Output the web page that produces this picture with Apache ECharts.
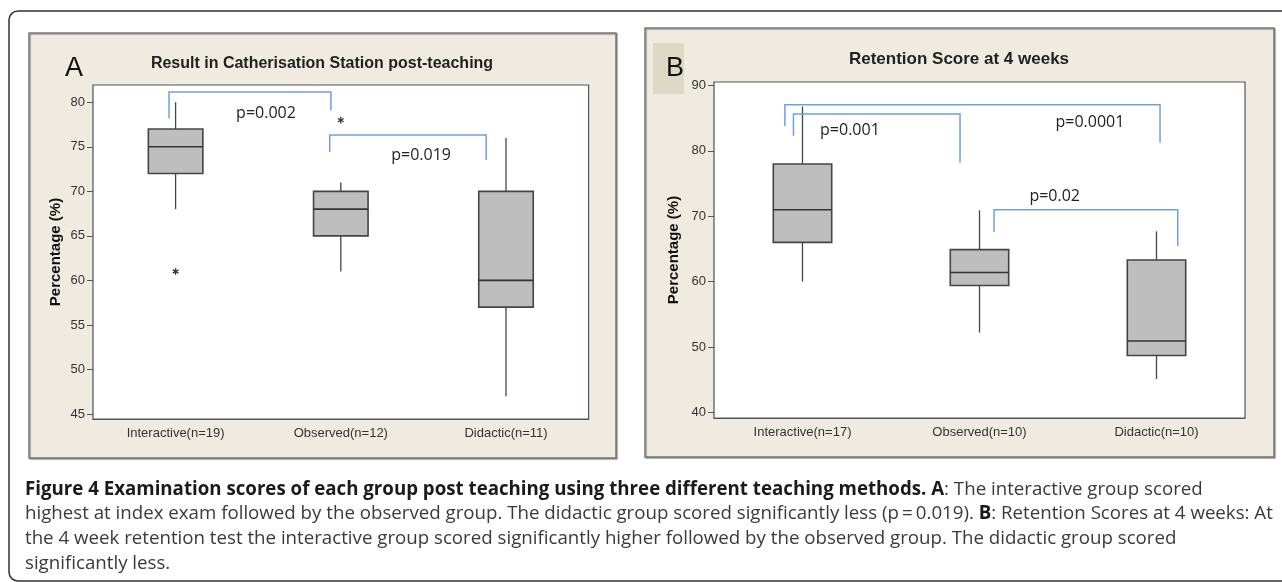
<!DOCTYPE html>
<html><head><meta charset="utf-8">
<script src="https://cdn.jsdelivr.net/npm/echarts@6/dist/echarts.min.js"></script>
<style>html,body{margin:0;padding:0;background:#fff;}#c{width:1282px;height:582px;}</style>
</head><body><div id="c"></div>
<script>
// ---------- DATA ----------
const categoriesA = ['Interactive(n=19)', 'Observed(n=12)', 'Didactic(n=11)'];
const categoriesB = ['Interactive(n=17)', 'Observed(n=10)', 'Didactic(n=10)'];
// [low whisker, Q1, median, Q3, high whisker]
const boxA = [[68, 72, 75, 77, 80], [61, 65, 68, 70, 71], [47, 57, 60, 70, 76]];
const boxB = [[60, 66, 71, 78, 86.8], [52.2, 59.4, 61.4, 64.9, 70.9], [45.1, 48.7, 50.9, 63.3, 67.7]];
// outliers [category index, value]
const outliersA = [[0, 61], [1, 78]];
const outliersB = [];
const ticksA = [45, 50, 55, 60, 65, 70, 75, 80];
const ticksB = [40, 50, 60, 70, 80, 90];
// significance brackets: [from category, to category, top value, left end value, right end value]
const bracketsA = [[0, 1, 81.16, 78.2, 79.1], [1, 2, 76.33, 74.42, 73.52]];
const bracketsB = [[0, 2, 87.06, 83.8, 81.24], [0, 1, 85.64, 82.3, 78.2], [1, 2, 70.98, 67.6, 65.4]];
// p-value labels: [category position, value]
const pPosA = [[0.547, 78.8], [1.486, 74.08]];
const pTextA = ['p=0.002', 'p=0.019'];
const pPosB = [[0.268, 83.06], [1.624, 84.3], [1.425, 73.0]];
const pTextB = ['p=0.001', 'p=0.0001', 'p=0.02'];
const titleA = 'Result in Catherisation Station post-teaching';
const titleB = 'Retention Score at 4 weeks';
const yName = 'Percentage (%)';
const captionLines = [
  [['b', 'Figure 4 Examination scores of each group post teaching using three different teaching methods. A'], ['r', ': The interactive group scored']],
  [['r', 'highest at index exam followed by the observed group. The didactic group scored significantly less (p\u2009=\u20090.019). '], ['b', 'B'], ['r', ': Retention Scores at 4 weeks: At']],
  [['r', 'the 4 week retention test the interactive group scored significantly higher followed by the observed group. The didactic group scored']],
  [['r', 'significantly less.']]
];

// ---------- LAYOUT / STYLE ----------
const bracketLegOffsetsA = [[-0.04, -0.06], [-0.067, -0.12]];
const bracketLegOffsetsB = [[-0.0995, 0.02], [-0.051, -0.11], [0.082, 0.12]];
const BOX_FILL = '#bebebe', BOX_STROKE = '#454545', BRACKET = '#6f9fe3';
const tickFont = '"Liberation Sans", Arial, sans-serif';
const capFamily = '"Open Sans", sans-serif';

// fit caption font size to reference line width
const cv = document.createElement('canvas').getContext('2d');
function lineWidth(segs, size) {
  let w = 0;
  segs.forEach(s => { cv.font = (s[0] === 'b' ? 'bold ' : '') + size + 'px ' + capFamily; w += cv.measureText(s[1]).width; });
  return w;
}
let capSize = 16 * 1246 / lineWidth(captionLines[1], 16);
capSize = Math.round(capSize * 10) / 10;

const chart = echarts.init(document.getElementById('c'), null, {renderer: 'canvas'});

function boxRender(params, api) {
  const i = api.value(0);
  const lo = api.coord([i, api.value(1)]);
  const q1 = api.coord([i, api.value(2)]);
  const md = api.coord([i, api.value(3)]);
  const q3 = api.coord([i, api.value(4)]);
  const hi = api.coord([i, api.value(5)]);
  const bw = api.size([1, 0])[0] * 0.33;
  const x = lo[0];
  const ls = {stroke: BOX_STROKE, lineWidth: 1.3};
  return {type: 'group', children: [
    {type: 'line', shape: {x1: x, y1: hi[1], x2: x, y2: q3[1]}, style: ls},
    {type: 'line', shape: {x1: x, y1: q1[1], x2: x, y2: lo[1]}, style: ls},
    {type: 'rect', shape: {x: x - bw / 2, y: q3[1], width: bw, height: q1[1] - q3[1]}, style: {fill: BOX_FILL, stroke: BOX_STROKE, lineWidth: 1.6}},
    {type: 'line', shape: {x1: x - bw / 2, y1: md[1], x2: x + bw / 2, y2: md[1]}, style: {stroke: '#333', lineWidth: 1.6}}
  ]};
}
function starRender(params, api) {
  const p = api.coord([api.value(0), api.value(1)]);
  const r = 3.3, s = {stroke: '#333', lineWidth: 1.3};
  const kids = [0, 60, 120].map(a => {
    const t = a * Math.PI / 180;
    return {type: 'line', shape: {x1: p[0] - r * Math.sin(t), y1: p[1] - r * Math.cos(t), x2: p[0] + r * Math.sin(t), y2: p[1] + r * Math.cos(t)}, style: s};
  });
  return {type: 'group', children: kids};
}
function bracketRender(offsets) {
  return function (params, api) {
    const k = api.value(5);
    const band = api.size([1, 0])[0];
    const xl = api.coord([api.value(0), 0])[0] + offsets[k][0] * band;
    const xr = api.coord([api.value(1), 0])[0] + offsets[k][1] * band;
    const yt = api.coord([0, api.value(2)])[1];
    const yl = api.coord([0, api.value(3)])[1];
    const yr = api.coord([0, api.value(4)])[1];
    return {type: 'polyline', shape: {points: [[xl, yl], [xl, yt], [xr, yt], [xr, yr]]}, style: {stroke: BRACKET, lineWidth: 1.5, fill: null}};
  };
}
function labelRender(texts) {
  return function (params, api) {
    const band = api.size([1, 0])[0];
    const p0 = api.coord([0, api.value(1)]);
    return {type: 'text', x: p0[0] + api.value(0) * band, y: p0[1],
      style: {text: texts[api.value(2)], fontFamily: capFamily, fontSize: 16, fill: '#222', align: 'center', verticalAlign: 'middle'}};
  };
}

function xAxis(idx, cats) {
  return {type: 'category', gridIndex: idx, data: cats, boundaryGap: true,
    axisLine: {lineStyle: {color: '#555', width: 1.2}},
    axisTick: {alignWithLabel: true, length: 4, lineStyle: {color: '#555'}},
    axisLabel: {margin: 8, color: '#333', fontFamily: tickFont, fontSize: 13},
    splitLine: {show: false}};
}
function yAxis(idx, min, max, ticks, gap) {
  return {type: 'value', gridIndex: idx, min: min, max: max,
    name: yName, nameLocation: 'middle', nameGap: gap, nameRotate: 90,
    nameTextStyle: {fontFamily: tickFont, fontWeight: 'bold', fontSize: 15, color: '#111'},
    axisLine: {show: true, lineStyle: {color: '#555', width: 1.2}},
    axisTick: {show: true, length: 6, customValues: ticks, lineStyle: {color: '#555'}},
    axisLabel: {margin: 8, color: '#333', fontFamily: tickFont, fontSize: 13, customValues: ticks},
    splitLine: {show: false}};
}

const graphics = [
  {type: 'rect', z: -20, shape: {x: 9, y: 11, width: 1300, height: 570, r: 9}, style: {fill: '#fff', stroke: '#333', lineWidth: 1.5}},
  {type: 'rect', z: -10, shape: {x: 29, y: 33, width: 587, height: 425}, style: {fill: '#efebe1', stroke: '#7a7a7a', lineWidth: 1.5, shadowColor: 'rgba(0,0,0,0.35)', shadowOffsetX: 1, shadowOffsetY: 1, shadowBlur: 1}},
  {type: 'rect', z: -10, shape: {x: 645, y: 28, width: 629, height: 429}, style: {fill: '#efebe1', stroke: '#7a7a7a', lineWidth: 1.5, shadowColor: 'rgba(0,0,0,0.35)', shadowOffsetX: 1, shadowOffsetY: 1, shadowBlur: 1}},
  {type: 'rect', z: -9, shape: {x: 653, y: 43, width: 31, height: 51}, style: {fill: '#dcd9c5'}},
  {type: 'text', z: 50, x: 74, y: 69, style: {text: 'A', fontFamily: tickFont, fontSize: 27, fill: '#111', align: 'center', verticalAlign: 'middle'}},
  {type: 'text', z: 50, x: 675, y: 69, style: {text: 'B', fontFamily: tickFont, fontSize: 27, fill: '#111', align: 'center', verticalAlign: 'middle'}},
  {type: 'text', z: 50, x: 322, y: 64, style: {text: titleA, fontFamily: tickFont, fontWeight: 'bold', fontSize: 16, fill: '#222', align: 'center', verticalAlign: 'middle'}},
  {type: 'text', z: 50, x: 959, y: 59, style: {text: titleB, fontFamily: tickFont, fontWeight: 'bold', fontSize: 17, fill: '#222', align: 'center', verticalAlign: 'middle'}}
];
const capY = [490, 514, 539, 564];
captionLines.forEach((segs, li) => {
  graphics.push({type: 'text', z: 50, x: 25, y: capY[li], style: {
    text: segs.map(s => '{' + s[0] + '|' + s[1] + '}').join(''),
    verticalAlign: 'middle', align: 'left',
    rich: {
      b: {fontFamily: capFamily, fontWeight: 'bold', fontSize: capSize, fill: '#1a1a1a'},
      r: {fontFamily: capFamily, fontSize: capSize, fill: '#3a3a3a'}
    }}});
});

const option = {
  animation: false,
  backgroundColor: '#fff',
  grid: [
    {left: 93, top: 85, width: 495.6, height: 334, show: true, backgroundColor: '#fff', borderColor: '#555', borderWidth: 1.2, z: 1},
    {left: 714, top: 82, width: 531, height: 336, show: true, backgroundColor: '#fff', borderColor: '#555', borderWidth: 1.2, z: 1}
  ],
  xAxis: [xAxis(0, categoriesA), xAxis(1, categoriesB)],
  yAxis: [yAxis(0, 44.44, 81.94, ticksA, 30), yAxis(1, 39.13, 90.54, ticksB, 33)],
  graphic: graphics,
  series: [
    {type: 'custom', xAxisIndex: 0, yAxisIndex: 0, renderItem: boxRender, data: boxA.map((b, i) => [i].concat(b)), z: 3},
    {type: 'custom', xAxisIndex: 1, yAxisIndex: 1, renderItem: boxRender, data: boxB.map((b, i) => [i].concat(b)), z: 3},
    {type: 'custom', xAxisIndex: 0, yAxisIndex: 0, renderItem: starRender, data: outliersA, z: 4},
    {type: 'custom', xAxisIndex: 1, yAxisIndex: 1, renderItem: starRender, data: outliersB, z: 4},
    {type: 'custom', xAxisIndex: 0, yAxisIndex: 0, renderItem: bracketRender(bracketLegOffsetsA), data: bracketsA.map((b, k) => b.concat([k])), z: 5},
    {type: 'custom', xAxisIndex: 1, yAxisIndex: 1, renderItem: bracketRender(bracketLegOffsetsB), data: bracketsB.map((b, k) => b.concat([k])), z: 5},
    {type: 'custom', xAxisIndex: 0, yAxisIndex: 0, renderItem: labelRender(pTextA), data: pPosA.map((p, k) => p.concat([k])), z: 6},
    {type: 'custom', xAxisIndex: 1, yAxisIndex: 1, renderItem: labelRender(pTextB), data: pPosB.map((p, k) => p.concat([k])), z: 6}
  ]
};
chart.setOption(option);
</script>
</body></html>
